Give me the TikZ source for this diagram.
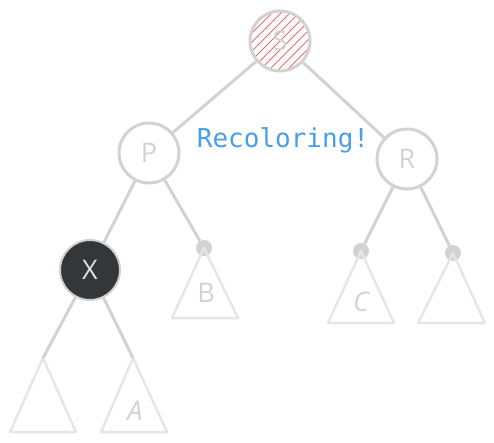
\documentclass[tikz,border=0pt]{standalone}
\usepackage{fontspec}
\setsansfont{Open Sans}
\setmonofont{DejaVu Sans Mono}
\usetikzlibrary{positioning}
\definecolor{edgegray}{HTML}{D2D2D2}
\definecolor{treegray}{HTML}{E6E6E6}
\definecolor{darknode}{HTML}{33373A}
\definecolor{hatchred}{HTML}{F26B6B}
\definecolor{noteblue}{HTML}{4A9EE8}

\begin{document}
\begin{tikzpicture}[x=1pt, y=-1pt,
    vertex/.style={circle, 
      draw=edgegray, 
      line width=3pt, 
      minimum size=60pt, 
      inner sep=0pt, 
      text=edgegray, 
      font=\sffamily\fontsize{27}{27}\selectfont},
    hatched/.style={path picture={
        \foreach \k in {-72,-63,...,72}
          \draw[hatchred, line width=1pt] 
            ([xshift=\k pt-40pt, yshift=-40pt]path picture bounding box.center) 
            -- ++(80pt,80pt);}},
    leaf/.style={circle, fill=edgegray, minimum size=16pt, inner sep=0pt},
    edge/.style={draw=edgegray, line width=3pt},
    subtree/.style={draw=treegray, line width=2.5pt, line join=round},
    sublabel/.style={text=edgegray, font=\sffamily\fontsize{27}{27}\selectfont}]
  \useasboundingbox (0,0) rectangle (494,442);

  % NODES

  \node [vertex, hatched] (S) at (280,41) {S};
  \node [vertex] (P) at (149,153) {P};
  \node [vertex] (R) at (407,159) {R};
  \node [vertex, fill=darknode, text=gray!25, line width=2pt] (X) at (90,270) {X};

  \node [leaf] (dB) at (204,248) {};
  \node [leaf] (dC) at (361,251) {};
  \node [leaf] (dR) at (453,253) {};

  \coordinate (aL) at (43,358);
  \coordinate (aA) at (133,358);

  \node [anchor=base, text=noteblue, 
    font=\ttfamily\fontsize{26}{26}\selectfont] (note) at (283,147) {Recoloring!};

  % SUBTREES

  \draw[subtree] (dB.center) -- (172,318) -- (238,318) -- cycle;
  \draw[subtree] (dC.center) -- (328,323) -- (394,323) -- cycle;
  \draw[subtree] (dR.center) -- (418,323) -- (485,323) -- cycle;
  \draw[subtree] (aL) -- (10,432) -- (76,432) -- cycle;
  \draw[subtree] (aA) -- (101,432) -- (167,432) -- cycle;

  \node [sublabel] (labB) at (206,293) {B};
  \node [sublabel, font=\sffamily\itshape\fontsize{27}{27}\selectfont] (labC) at (361,302) {C};
  \node [sublabel, font=\sffamily\itshape\fontsize{27}{27}\selectfont] (labA) at (135,411) {A};

  % EDGES

  \draw[edge] (S) -- (P);
  \draw[edge] (S) -- (R);
  \draw[edge] (P) -- (X);
  \draw[edge] (P) -- (dB);
  \draw[edge] (R) -- (dC);
  \draw[edge] (R) -- (dR);
  \draw[edge] (X) -- (aL);
  \draw[edge] (X) -- (aA);

\end{tikzpicture}
\end{document}
